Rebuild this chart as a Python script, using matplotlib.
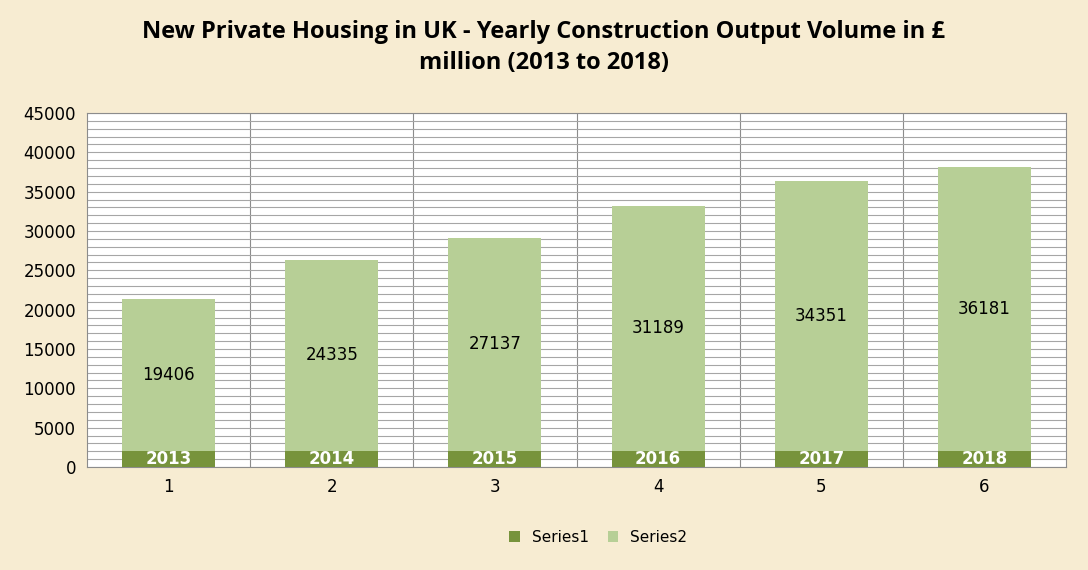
import matplotlib.pyplot as plt
import numpy as np

categories = ["1", "2", "3", "4", "5", "6"]
series1 = [2013, 2014, 2015, 2016, 2017, 2018]
series2 = [19406, 24335, 27137, 31189, 34351, 36181]

fig = plt.figure(figsize=(10.88, 5.70), dpi=100)
fig.patch.set_facecolor('#F7ECD2')
ax = fig.add_axes([87/1088, 1-467/570, (1066-87)/1088, (467-113)/570])
ax.set_facecolor('white')
x = np.arange(len(categories))
w = 0.57
b1 = ax.bar(x, series1, w, color='#77933C', label='Series1', zorder=3)
b2 = ax.bar(x, series2, w, bottom=series1, color='#B7CF96', label='Series2', zorder=3)
for xi, s1, s2 in zip(x, series1, series2):
    ax.text(xi, s1/2, str(s1), ha='center', va='center', color='white', fontsize=12, fontweight='bold', zorder=4)
    ax.text(xi, s1 + s2/2, str(s2), ha='center', va='center', color='black', fontsize=12, zorder=4)
ax.set_xlim(-0.5, 5.5)
ax.set_ylim(0, 45000)
ax.set_yticks(range(0, 45001, 5000))
ax.set_yticks(range(0, 45001, 1000), minor=True)
ax.grid(axis='y', which='both', color='#A6A6A6', lw=0.8, zorder=0)
for b in np.arange(0.5, 5.5, 1):
    ax.axvline(b, color='#8C8C8C', lw=0.8, zorder=1)
ax.set_xticks(x)
ax.set_xticklabels(categories)
ax.tick_params(axis='both', which='both', length=0, labelsize=12, pad=8)
for s in ax.spines.values():
    s.set_color('#8C8C8C'); s.set_linewidth(0.8)
fig.suptitle("New Private Housing in UK - Yearly Construction Output Volume in £\nmillion (2013 to 2018)",
             y=0.965, fontsize=17, fontweight='bold', family='Open Sans', linespacing=1.4)
fig.legend(handles=[b1, b2], loc='lower center', bbox_to_anchor=(0.55, 0.02), ncol=2, frameon=False,
           fontsize=11, handlelength=0.7, handleheight=0.7, columnspacing=1.2)
fig.savefig('out.png', dpi=100, facecolor=fig.get_facecolor())
